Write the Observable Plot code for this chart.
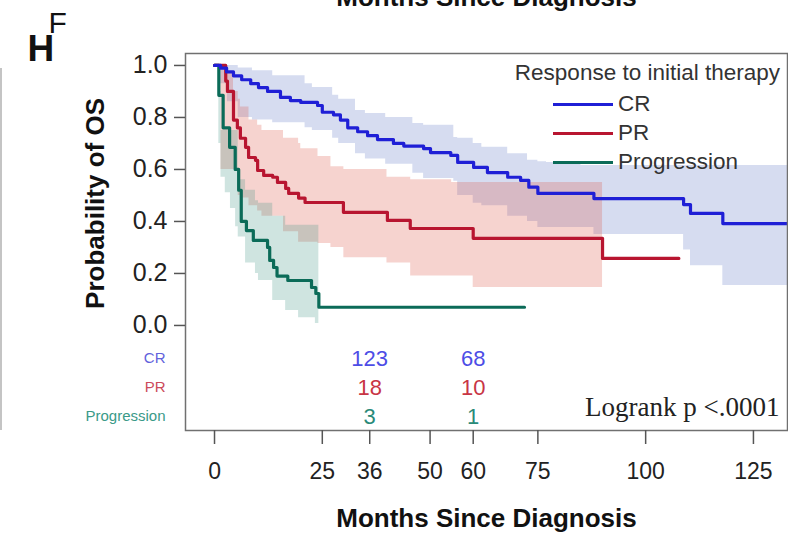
<!DOCTYPE html>
<html>
<head>
<meta charset="utf-8">
<script src="https://cdn.jsdelivr.net/npm/d3@7"></script>
<script src="https://cdn.jsdelivr.net/npm/@observablehq/plot@0.6"></script>
<style>
  html, body { margin: 0; padding: 0; background: #fff; }
  #wrap { position: relative; width: 788px; height: 534px; overflow: hidden; font-family: "Liberation Sans", Arial, sans-serif; }
  #edge { position: absolute; left: 0; top: 68px; width: 2px; height: 362px; background: #c4c4c4; }
  .lg { position: absolute; font-size: 22.5px; line-height: 22px; color: #333; white-space: nowrap; }
  .lg .sw { display: inline-block; width: 60px; height: 3px; vertical-align: middle; margin-right: 5px; position: relative; top: -1px; }
</style>
</head>
<body>
<div id="wrap"></div>
<script>
// ---------- data ----------
const groups = ["CR", "PR", "Progression"];
const lineColors = ["#1f1fd6", "#b81530", "#0b6b58"];
const bandColors = ["#3250b4", "#db4f3f", "#3f9383"];
const riskColors = ["#4d4de6", "#c83545", "#2a8a78"];
const labelColors = ["#6262dc", "#cc4a5a", "#3a9a88"];

// Kaplan-Meier step curves (months, survival)
const crTime = [0,1.4,2.8,4.4,6.3,8.4,10.2,12.3,15.3,17.6,20,23.9,25,27.6,29.2,30.9,33.2,35.5,37.8,41.5,43.9,48.5,50.1,54.8,56.4,60.1,63.3,68,71,72.9,75,88,108.8,110.4,117.9,132.9];
const crSurv = [1,0.99,0.975,0.96,0.945,0.93,0.915,0.9,0.877,0.865,0.858,0.846,0.82,0.81,0.79,0.76,0.745,0.73,0.715,0.7,0.69,0.68,0.665,0.654,0.627,0.608,0.588,0.57,0.558,0.532,0.508,0.488,0.465,0.431,0.392,0.392];

const prTime = [0,2.6,3,4.4,5.3,6,7.2,7.9,9.5,10,11.4,13.5,14.6,16.5,17.2,19.5,21,29.9,40.1,45.4,60,90,107.7];
const prSurv = [1,0.94,0.9,0.79,0.76,0.72,0.685,0.646,0.635,0.596,0.577,0.57,0.55,0.527,0.508,0.49,0.473,0.435,0.404,0.373,0.335,0.258,0.258];

const pgTime = [0,1,2,3.5,4.8,5.6,6.2,7.4,9,12.3,12.8,13.7,14.5,17,22.5,23.5,24.2,71.9];
const pgSurv = [1,0.885,0.76,0.685,0.6,0.52,0.4,0.365,0.327,0.3,0.25,0.223,0.19,0.173,0.146,0.123,0.07,0.07];

// Confidence bands (months, lower, upper)
const crBandTime = [0,1.4,3,5.5,8.8,13.5,21,22.7,27.4,28.8,32.7,35,39.7,46,48.5,55.5,56.4,60,62,68,72.6,75,77,85,88,108.8,110.4,117.9,132.9];
const crBandLo   = [1,0.93,0.86,0.8,0.79,0.78,0.76,0.75,0.72,0.7,0.66,0.64,0.62,0.585,0.565,0.555,0.5,0.47,0.46,0.42,0.4,0.377,0.377,0.377,0.35,0.29,0.23,0.154,0.154];
const crBandHi   = [1,1,1,0.99,0.98,0.96,0.93,0.915,0.885,0.87,0.827,0.815,0.8,0.777,0.77,0.723,0.72,0.7,0.685,0.66,0.635,0.63,0.627,0.615,0.615,0.615,0.615,0.615,0.615];

const prBandTime = [0,1.5,2.6,4.4,5.5,6,8,10,11,16,19.5,20,24,27,30,40,45.5,55,60,90];
const prBandLo   = [1,0.6,0.6,0.6,0.5,0.49,0.46,0.44,0.42,0.36,0.32,0.32,0.315,0.3,0.26,0.24,0.19,0.19,0.146,0.146];
const prBandHi   = [1,1,0.97,0.9,0.87,0.84,0.79,0.77,0.75,0.72,0.7,0.68,0.65,0.61,0.6,0.57,0.56,0.55,0.55,0.55];

const pgBandTime = [0,1,1.5,2.5,3.7,4.9,5.5,7.2,9.5,10.2,13.5,16.5,19.5,23.4,24.2];
const pgBandLo   = [1,0.7,0.57,0.51,0.45,0.38,0.34,0.24,0.2,0.173,0.096,0.058,0.03,0.008,0.008];
const pgBandHi   = [1,0.9,0.75,0.75,0.75,0.75,0.56,0.52,0.48,0.47,0.42,0.385,0.385,0.385,0.385];

// Numbers at risk
const riskTimes = [36, 60];
const riskCR = [123, 68];
const riskPR = [18, 10];
const riskPG = [3, 1];

const xTicks = [0, 25, 36, 50, 60, 75, 100, 125];
const yTicks = [0, 0.2, 0.4, 0.6, 0.8, 1.0];

// ---------- build ----------
const curves = [[crTime, crSurv], [prTime, prSurv], [pgTime, pgSurv]];
const bands = [[crBandTime, crBandLo, crBandHi], [prBandTime, prBandLo, prBandHi], [pgBandTime, pgBandLo, pgBandHi]];
const riskCounts = [riskCR, riskPR, riskPG];

const curveRows = curves.flatMap(([t, s], g) => t.map((ti, i) => ({g, t: ti, s: s[i]})));
const bandRows = bands.flatMap(([t, lo, hi], g) => t.map((ti, i) => ({g, t: ti, lo: lo[i], hi: hi[i]})));
const riskRowTop = -0.127, riskRowStep = 0.1115;
const rowY = (g) => riskRowTop - g * riskRowStep;
const riskRows = riskCounts.flatMap((c, g) => riskTimes.map((t, j) => ({g, t, n: c[j]})));

const bandMarks = [0, 1, 2].map(g => Plot.areaY(bandRows.filter(d => d.g === g), {
  x: "t", y1: "lo", y2: "hi", curve: "step-after", fill: bandColors[g], fillOpacity: g === 0 ? 0.2 : 0.25
}));
const lineMarks = [2, 1, 0].map(g => Plot.line(curveRows.filter(d => d.g === g), {
  x: "t", y: "s", curve: "step-after", stroke: lineColors[g], strokeWidth: 3.2
}));

const chart = Plot.plot({
  width: 788, height: 534,
  marginLeft: 185, marginRight: 1, marginTop: 53, marginBottom: 104,
  x: {domain: [-6.73, 132.9]},
  y: {domain: [-0.404, 1.046]},
  style: {fontFamily: "'Liberation Sans', Arial, sans-serif", background: "white", color: "#222"},
  marks: [
    ...bandMarks,
    ...lineMarks,
    Plot.frame({stroke: "#707070", strokeWidth: 1.5}),
    Plot.axisY({ticks: yTicks, tickFormat: d3.format(".1f"), tickSize: 11, tickPadding: 7, fontSize: 25, label: null, stroke: "#555", strokeWidth: 1.5, fill: "#222"}),
    Plot.axisX({ticks: xTicks, tickFormat: d => d, tickSize: 14, tickPadding: 18, fontSize: 23, label: null, stroke: "#555", strokeWidth: 1.5, fill: "#222"}),
    Plot.text(["Probability of OS"], {y: [d3.mean(yTicks)], frameAnchor: "left", textAnchor: "middle", lineAnchor: "middle", dx: -90, dy: 8, rotate: -90, fontSize: 26, fontWeight: "bold", fill: "#111"}),
    Plot.text(["Months Since Diagnosis"], {frameAnchor: "bottom", lineAnchor: "bottom", dy: 96, fontSize: 26, fontWeight: "bold", fill: "#111"}),
    Plot.text(["Months Since Diagnosis"], {frameAnchor: "top", lineAnchor: "bottom", dy: -48, fontSize: 26, fontWeight: "bold", fill: "#111"}),
    Plot.text(["H"], {frameAnchor: "top-left", textAnchor: "start", lineAnchor: "bottom", dx: -158, dy: 7, fontSize: 37, fontWeight: "bold", fill: "#111"}),
    Plot.text(["F"], {frameAnchor: "top-left", textAnchor: "start", lineAnchor: "bottom", dx: -137, dy: -21, fontSize: 30, fill: "#111"}),
    Plot.text(groups, {y: (d, i) => rowY(i), text: d => d, frameAnchor: "left", dx: -20, textAnchor: "end", fontSize: 15, fill: (d, i) => labelColors[i]}),
    Plot.text(riskRows, {x: "t", y: d => rowY(d.g), text: "n", fontSize: 22, fill: d => riskColors[d.g]}),
    Plot.text(["Logrank p <.0001"], {frameAnchor: "bottom-right", textAnchor: "end", lineAnchor: "bottom", dx: -8, dy: -15, fontSize: 27, fontFamily: "'Liberation Serif', 'Times New Roman', serif", fill: "#222"})
  ]
});

const wrap = document.getElementById("wrap");
wrap.appendChild(chart);

// left edge line (cropped neighbour panel)
const edge = document.createElement("div");
edge.id = "edge";
wrap.appendChild(edge);

// legend
const lgTitle = document.createElement("div");
lgTitle.className = "lg";
lgTitle.style.right = "8px";
lgTitle.style.top = "62px";
lgTitle.textContent = "Response to initial therapy";
wrap.appendChild(lgTitle);
const lgTop = [93, 122, 151];
groups.forEach((g, i) => {
  const el = document.createElement("div");
  el.className = "lg";
  el.style.left = "553px";
  el.style.top = lgTop[i] + "px";
  const sw = document.createElement("span");
  sw.className = "sw";
  sw.style.background = lineColors[i];
  el.appendChild(sw);
  el.appendChild(document.createTextNode(g));
  wrap.appendChild(el);
});
</script>
</body>
</html>
